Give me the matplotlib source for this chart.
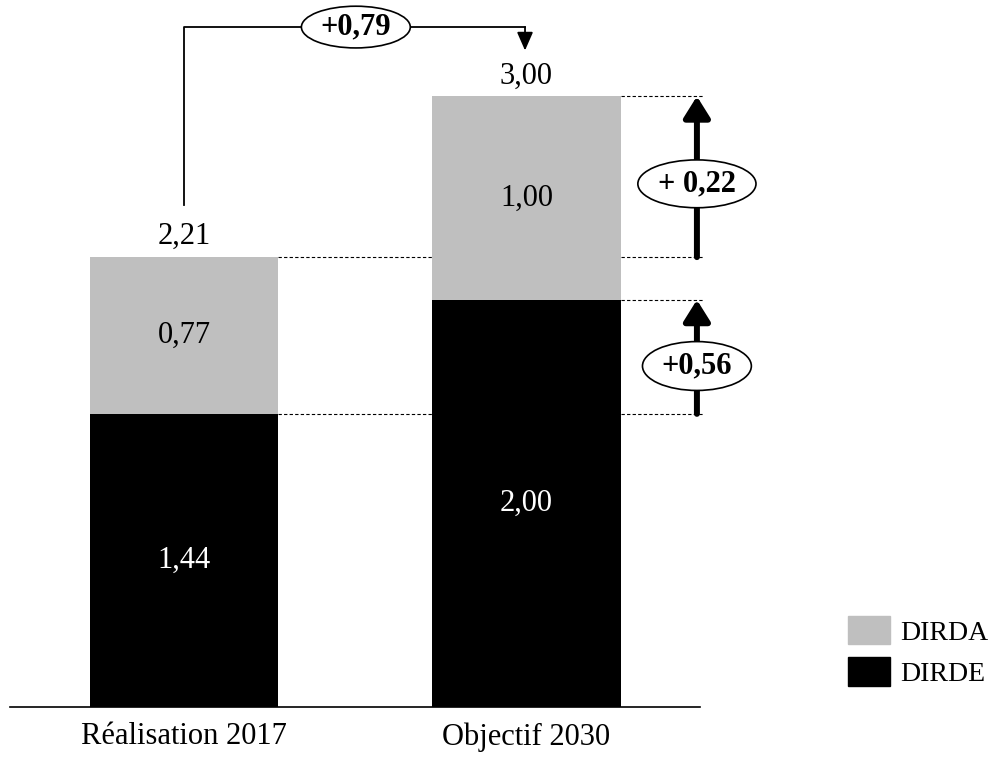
import matplotlib
matplotlib.use("Agg")
import matplotlib.pyplot as plt
from matplotlib.patches import Ellipse, Patch

# data
categories = ["Réalisation 2017", "Objectif 2030"]
dirde = [1.44, 2.00]
dirda = [0.77, 1.00]
totals = [2.21, 3.00]
# increments as printed in the source
diff_labels = {"total": "+0,79", "dirda": "+ 0,22", "dirde": "+0,56"}
colors = {"DIRDE": "#000000", "DIRDA": "#BFBFBF"}

def fr(v):
    return f"{v:.2f}".replace(".", ",")

plt.rcParams["font.family"] = ["Liberation Serif", "DejaVu Serif"]
FS = 22

W, H = 999, 768
fig = plt.figure(figsize=(W / 100, H / 100), dpi=100)
ax = fig.add_axes([10 / W, 61 / H, 690 / W, 707 / H])

x = [0, 1]
bw = 0.55
ax.bar(x, dirde, width=bw, color=colors["DIRDE"], label="DIRDE")
ax.bar(x, dirda, width=bw, bottom=dirde, color=colors["DIRDA"], label="DIRDA")

ax.set_xlim(-0.508, 1.507)
ax.set_ylim(0, 3.473)

for s in ["top", "left", "right"]:
    ax.spines[s].set_visible(False)
ax.spines["bottom"].set_linewidth(1.2)
ax.set_yticks([])
ax.set_xticks(x)
ax.set_xticklabels(categories, fontsize=FS)
ax.tick_params(axis="x", length=0, pad=11)

# segment labels
for i in range(2):
    ax.text(x[i], dirde[i] / 2, fr(dirde[i]), color="white", fontsize=FS,
            ha="center", va="center")
    ax.text(x[i], dirde[i] + dirda[i] / 2, fr(dirda[i]), color="black",
            fontsize=FS, ha="center", va="center")
    ax.text(x[i], totals[i] + 0.1, fr(totals[i]), color="black",
            fontsize=FS, ha="center", va="center")

# dashed guide lines
dash = dict(color="black", lw=0.8, linestyle=(0, (3, 2)), clip_on=False)
r0 = x[0] + bw / 2
l1 = x[1] - bw / 2
r1 = x[1] + bw / 2
xa = 1.498
ax.plot([r0, l1], [totals[0], totals[0]], **dash)
ax.plot([r0, l1], [dirde[0], dirde[0]], **dash)
for yv in [totals[1], totals[0], dirde[1], dirde[0]]:
    ax.plot([r1, xa + 0.018], [yv, yv], **dash)

# thick up arrows on the right
thick = dict(arrowstyle="-|>,head_length=0.8,head_width=0.5", lw=4.3,
             color="black", mutation_scale=16, shrinkA=0, shrinkB=0)
ax.annotate("", xy=(xa, totals[1]), xytext=(xa, totals[0]),
            arrowprops=thick, annotation_clip=False)
ax.annotate("", xy=(xa, dirde[1]), xytext=(xa, dirde[0]),
            arrowprops=thick, annotation_clip=False)

def bubble(cx, cy, w, h, txt):
    e = Ellipse((cx, cy), w, h, facecolor="white", edgecolor="black",
                lw=1.2, zorder=5, clip_on=False)
    ax.add_patch(e)
    ax.text(cx, cy, txt, fontsize=FS, fontweight="bold", ha="center",
            va="center", zorder=6)

bubble(xa, 2.57, 0.345, 0.235, diff_labels["dirda"])
bubble(xa, 1.675, 0.318, 0.24, diff_labels["dirde"])

# top connector
ytop = 3.34
xe = x[1] - 0.004
ax.plot([x[0], x[0], xe], [2.466, ytop, ytop], color="black",
        lw=1.3, clip_on=False)
ax.annotate("", xy=(xe, 3.225), xytext=(xe, ytop),
            arrowprops=dict(arrowstyle="-|>,head_length=0.8,head_width=0.35",
                            lw=1.3, color="black", mutation_scale=14,
                            shrinkA=0, shrinkB=0),
            annotation_clip=False)
bubble(0.502, ytop, 0.318, 0.205, diff_labels["total"])

# legend
handles = [Patch(color=colors["DIRDA"]), Patch(color=colors["DIRDE"])]
fig.legend(handles, ["DIRDA", "DIRDE"], loc="upper left",
           bbox_to_anchor=(848 / W, 1 - 616 / H), frameon=False,
           fontsize=20, handlelength=1.51, handleheight=1.19,
           handletextpad=0.36, labelspacing=0.43, borderpad=0,
           borderaxespad=0)

fig.savefig("out.png", dpi=100)
